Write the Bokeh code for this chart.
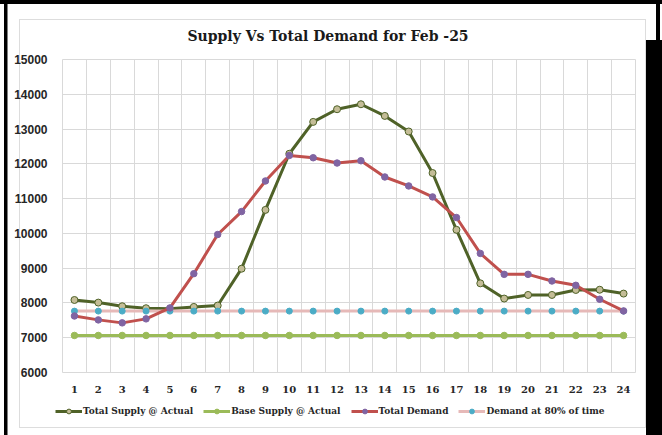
from bokeh.plotting import figure
from bokeh.layouts import column
from bokeh.models import FixedTicker, Legend, LegendItem, Range1d
from bokeh.embed import file_html
from bokeh.resources import INLINE

# ---- data ----
hours = [1, 2, 3, 4, 5, 6, 7, 8, 9, 10, 11, 12, 13, 14, 15, 16, 17, 18, 19, 20, 21, 22, 23, 24]
total_supply = [8085, 8010, 7905, 7848, 7830, 7886, 7925, 8985, 10676, 12290, 13206, 13570,
                13713, 13378, 12930, 11736, 10103, 8564, 8126, 8230, 8230, 8373, 8380, 8269]
base_supply = [7065, 7065, 7065, 7065, 7065, 7065, 7065, 7065, 7065, 7065, 7065, 7065,
               7065, 7065, 7065, 7065, 7065, 7065, 7065, 7065, 7065, 7065, 7065, 7065]
total_demand = [7625, 7513, 7427, 7542, 7857, 8842, 9968, 10628, 11507, 12241, 12175, 12023,
                12089, 11622, 11364, 11049, 10456, 9424, 8822, 8822, 8631, 8507, 8106, 7771]
demand_80 = [7765, 7765, 7765, 7765, 7765, 7765, 7765, 7765, 7765, 7765, 7765, 7765,
             7765, 7765, 7765, 7765, 7765, 7765, 7765, 7765, 7765, 7765, 7765, 7765]
y_ticks = [6000, 7000, 8000, 9000, 10000, 11000, 12000, 13000, 14000, 15000]
title_text = "Supply Vs Total Demand for Feb -25"
series_names = ["Total Supply @ Actual", "Base Supply @ Actual", "Total Demand", "Demand at 80% of time"]

# series styles
ts_line = dict(line_color="#4F6228", line_width=3)
ts_mark = dict(size=7, fill_color="#C4BD97", line_color="#4F6228", line_width=1)
bs_line = dict(line_color="#9BBB59", line_width=3)
bs_mark = dict(size=6.5, fill_color="#9BBB59", line_color="#9BBB59", line_width=1)
d80_line = dict(line_color="#E6B9B8", line_width=3)
d80_mark = dict(size=6, fill_color="#4BACC6", line_color="#4BACC6", line_width=1)
td_line = dict(line_color="#C0504D", line_width=3)
td_mark = dict(size=6.5, fill_color="#8064A2", line_color="#8064A2", line_width=1)

p = figure(width=662, height=395, x_range=Range1d(0.5, 24.5), y_range=Range1d(6000, 15000),
           output_backend="svg", toolbar_location=None,
           min_border_left=62, min_border_right=27, min_border_top=59, min_border_bottom=22)
p.frame_align = False
p.border_fill_color = None
p.background_fill_color = "white"
p.outline_line_color = "#D9D9D9"
p.outline_line_width = 1

p.title.text = title_text
p.title.text_font = "DejaVu Serif"
p.title.text_font_style = "bold"
p.title.text_font_size = "14px"
p.title.text_color = "#1a1a1a"
p.title.align = "left"
p.title.offset = 125
p.title.standoff = 32

grid_color = "#D9D9D9"
p.xgrid.ticker = FixedTicker(ticks=[h - 0.5 for h in hours] + [hours[-1] + 0.5])
p.ygrid.ticker = FixedTicker(ticks=y_ticks)
p.xgrid.grid_line_color = grid_color
p.ygrid.grid_line_color = grid_color

p.xaxis.ticker = FixedTicker(ticks=hours)
p.yaxis.ticker = FixedTicker(ticks=y_ticks)
for ax in (p.xaxis[0], p.yaxis[0]):
    ax.axis_line_color = None
    ax.major_tick_line_color = None
    ax.minor_tick_line_color = None
    ax.major_label_text_color = "#262626"
p.xaxis.major_label_standoff = 7
p.yaxis.major_label_standoff = 9
p.xaxis.major_label_text_font = "DejaVu Serif"
p.xaxis.major_label_text_font_style = "bold"
p.xaxis.major_label_text_font_size = "10px"
p.yaxis.major_label_text_font = "Liberation Sans"
p.yaxis.major_label_text_font_style = "bold"
p.yaxis.major_label_text_font_size = "12px"

p.line(hours, total_supply, **ts_line)
p.scatter(hours, total_supply, **ts_mark)
p.line(hours, base_supply, **bs_line)
p.scatter(hours, base_supply, **bs_mark)
p.line(hours, demand_80, **d80_line)
p.scatter(hours, demand_80, **d80_mark)
p.line(hours, total_demand, **td_line)
p.scatter(hours, total_demand, **td_mark)

# legend strip below the chart (its own small figure so the legend is not clipped);
# the series are drawn again there only as legend sources, outside its visible ranges
lg = figure(width=662, height=40, x_range=Range1d(-2, -1), y_range=Range1d(-2, -1),
            output_backend="svg", toolbar_location=None, min_border=0,
            x_axis_type=None, y_axis_type=None)
lg.frame_align = False
lg.xgrid.visible = False
lg.ygrid.visible = False
lg.outline_line_color = None
lg.border_fill_color = None
lg.background_fill_color = None

items = []
for name, ys, ls, ms in zip(series_names, [total_supply, base_supply, total_demand, demand_80],
                            [ts_line, bs_line, td_line, d80_line],
                            [ts_mark, bs_mark, td_mark, d80_mark]):
    r1 = lg.line(hours, ys, **ls)
    r2 = lg.scatter(hours, ys, **ms)
    items.append(LegendItem(label=name, renderers=[r1, r2]))

legend = Legend(items=items, orientation="horizontal", location=(55, 18), glyph_width=27, glyph_height=12,
                label_standoff=1, spacing=10, padding=0, margin=0, border_line_color=None,
                background_fill_alpha=0, label_text_font="DejaVu Serif", label_text_font_style="bold",
                label_text_font_size="9px", label_text_color="#262626", label_height=12)
lg.add_layout(legend)

root = column(p, lg, spacing=0)

# page decoration (outer black frame + light chart-area border) drawn as CSS backgrounds
rects = [
    ("#000000", "662px 4px", "0px 0px"),
    ("#000000", "3.5px 435px", "4px 0px"),
    ("#000000", "4px 40px", "656px 0px"),
    ("#000000", "16px 395px", "646px 40px"),
    ("#DDDDDD", "627px 1px", "19px 19px"),
    ("#DDDDDD", "627px 1px", "19px 427px"),
    ("#DDDDDD", "1px 409px", "19px 19px"),
    ("#DDDDDD", "1px 409px", "645px 19px"),
]
root.styles = {
    "background-color": "white",
    "background-image": ", ".join(f"linear-gradient({c}, {c})" for c, _, _ in rects),
    "background-size": ", ".join(s for _, s, _ in rects),
    "background-position": ", ".join(pos for _, _, pos in rects),
    "background-repeat": "no-repeat",
}

open("out.html", "w").write(file_html(root, INLINE))
